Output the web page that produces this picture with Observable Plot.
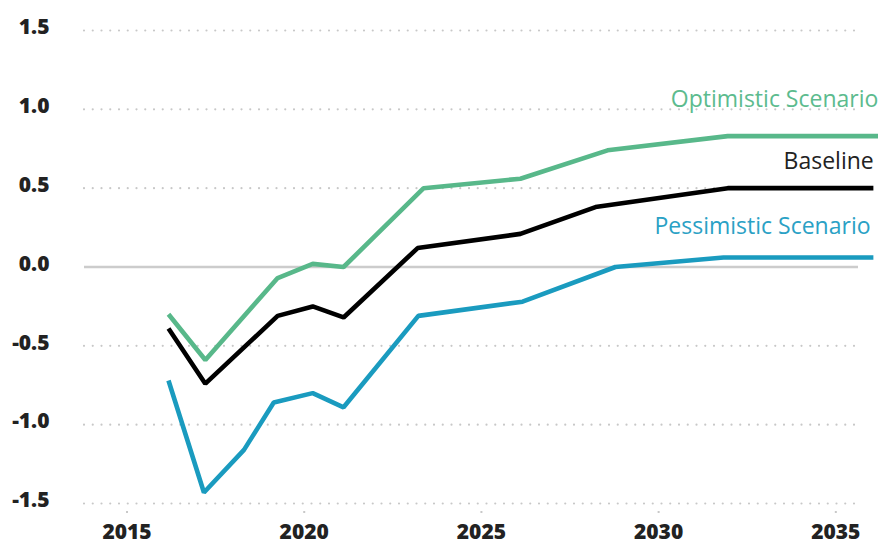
<!DOCTYPE html>
<html>
<head>
<meta charset="utf-8">
<script src="https://cdn.jsdelivr.net/npm/d3@7"></script>
<script src="https://cdn.jsdelivr.net/npm/@observablehq/plot@0.6"></script>
<style>
  html, body { margin: 0; padding: 0; background: #fff; }
  #chart svg { display: block; }
</style>
</head>
<body>
<div id="chart"></div>
<script>
// ---- data ----
const yearsOptimistic = [2016.17, 2017.21, 2019.25, 2020.24, 2021.11, 2023.37, 2026.1, 2028.56, 2031.95, 2036.2];
const optimistic      = [-0.30, -0.59, -0.07, 0.02, 0.00, 0.50, 0.56, 0.74, 0.83, 0.83];

const yearsBaseline = [2016.17, 2017.21, 2019.25, 2020.24, 2021.11, 2023.2, 2026.1, 2028.22, 2031.95, 2036.06];
const baseline      = [-0.39, -0.74, -0.31, -0.25, -0.32, 0.12, 0.21, 0.38, 0.50, 0.50];

const yearsPessimistic = [2016.17, 2017.17, 2018.3, 2019.14, 2020.24, 2021.11, 2023.22, 2026.16, 2028.78, 2031.83, 2036.06];
const pessimistic      = [-0.72, -1.43, -1.16, -0.86, -0.80, -0.89, -0.31, -0.22, 0.00, 0.06, 0.06];

const xTicks = [2015, 2020, 2025, 2030, 2035];
const yTicks = [-1.5, -1.0, -0.5, 0.0, 0.5, 1.0, 1.5];

const seriesNames = ["Optimistic Scenario", "Baseline", "Pessimistic Scenario"];
const labelX = [2036.2, 2036.07, 2035.98];
const labelY = [1.013, 0.62, 0.21];

const colors = ["#58b88a", "#000000", "#1a9bbf"];
const labelColors = ["#5cbb8e", "#222222", "#2aa1c5"];

// ---- build tables ----
const toRows = (xs, ys) => xs.map((x, i) => ({year: x, value: ys[i]}));
const optRows = toRows(yearsOptimistic, optimistic);
const baseRows = toRows(yearsBaseline, baseline);
const pessRows = toRows(yearsPessimistic, pessimistic);
const labels = seriesNames.map((name, i) => ({name, x: labelX[i], y: labelY[i], color: labelColors[i]}));

const lineStyle = {x: "year", y: "value", strokeWidth: 4.6, strokeLinejoin: "miter", strokeLinecap: "butt"};

const chart = Plot.plot({
  width: 878,
  height: 546,
  marginLeft: 84,
  marginRight: 20,
  marginTop: 30,
  marginBottom: 43,
  style: {fontFamily: "'Open Sans', sans-serif", background: "#fff"},
  x: {domain: [2013.8, 2035.64]},
  y: {domain: [-1.5, 1.5]},
  marks: [
    Plot.ruleY(yTicks.filter(d => d !== 0), {stroke: "#c8c8c8", strokeWidth: 2.2, strokeDasharray: "0,8.75", strokeLinecap: "round"}),
    Plot.ruleY([0], {stroke: "#cccccc", strokeWidth: 2.5}),
    Plot.axisY({ticks: yTicks, tickSize: 0, tickPadding: 35, tickFormat: d => d.toFixed(1), fontSize: 21, fontWeight: 800, fill: "#222", dy: -3, label: null}),
    Plot.axisX({ticks: xTicks, tickSize: 2, dy: 8, stroke: "#c8c8c8", strokeWidth: 2, tickFormat: () => "", label: null}),
    Plot.axisX({ticks: xTicks, tickSize: 0, tickPadding: 21, tickFormat: d => String(d), fontSize: 21, fontWeight: 800, fill: "#222", label: null}),
    Plot.line(optRows, {...lineStyle, stroke: colors[0]}),
    Plot.line(baseRows, {...lineStyle, stroke: colors[1]}),
    Plot.line(pessRows, {...lineStyle, stroke: colors[2]}),
    Plot.text(labels, {x: "x", y: "y", text: "name", fill: "color", textAnchor: "end", lineAnchor: "bottom", fontSize: 23, fontFamily: "'Open Sans', sans-serif"})
  ]
});
document.getElementById("chart").appendChild(chart);
</script>
</body>
</html>
